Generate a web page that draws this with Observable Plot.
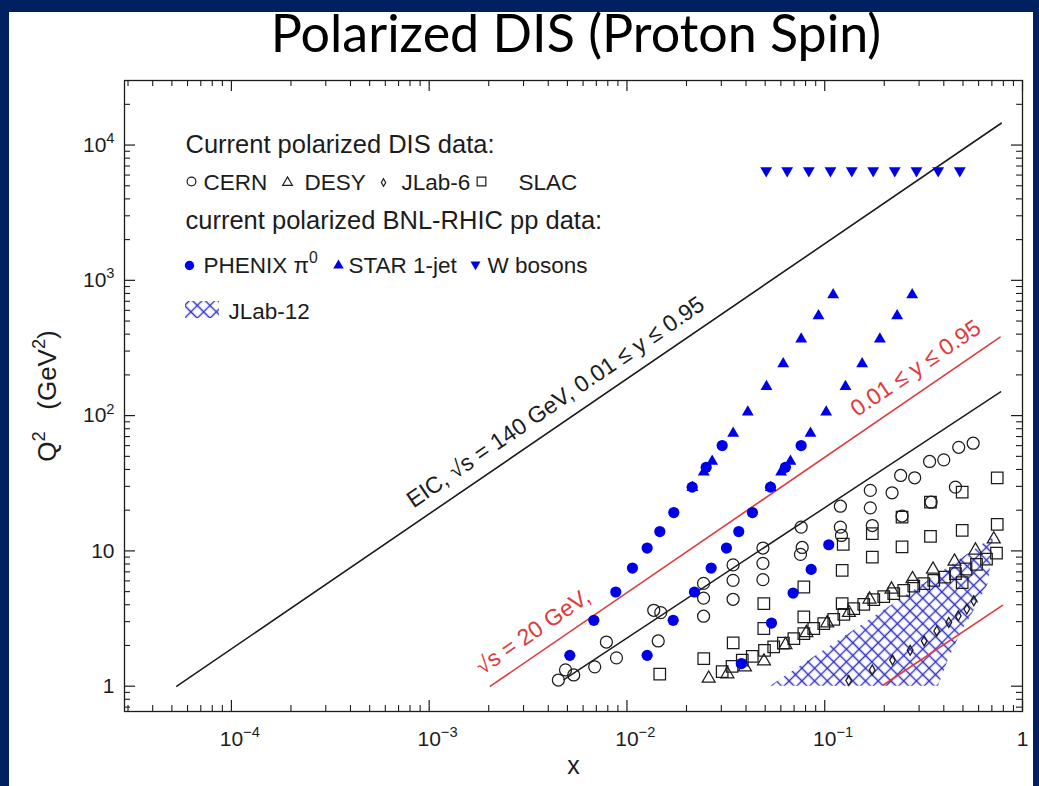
<!DOCTYPE html>
<html>
<head>
<meta charset="utf-8">
<title>Polarized DIS (Proton Spin)</title>
<script src="https://cdn.jsdelivr.net/npm/d3@7"></script>
<script src="https://cdn.jsdelivr.net/npm/@observablehq/plot@0.6"></script>
<style>
  html, body { margin: 0; padding: 0; }
  body { width: 1039px; height: 786px; background: #002060; position: relative; overflow: hidden; }
  #panel { position: absolute; left: 9px; top: 12px; width: 1024px; height: 774px; background: #ffffff; }
  #title { position: absolute; left: 0; top: 6px; width: 1152px; text-align: center;
           font-family: Lato, "Open Sans", sans-serif; font-size: 52px; line-height: 52px; color: #000; }
  #chart { position: absolute; left: 0; top: 0; }
</style>
</head>
<body>
<div id="panel"></div>
<div id="title">Polarized DIS (Proton Spin)</div>
<div id="chart"></div>
<script>
// ---- axis ticks -------------------------------------------------------
const xMajor = [1e-4, 1e-3, 1e-2, 1e-1, 1];
const xTickLabels = ["10^{−4}", "10^{−3}", "10^{−2}", "10^{−1}", "1"];
const yMajor = [1, 10, 100, 1000, 10000];
const yTickLabels = ["1", "10", "10^{2}", "10^{3}", "10^{4}"];

// ---- current polarized DIS data: [x, Q² (GeV²)] ------------------------
const cern = [
  [0.00450, 1.11], [0.00489, 1.32], [0.00538, 1.21], [0.00687, 1.39], [0.00885, 1.62],
  [0.00787, 2.12], [0.01366, 3.64], [0.01482, 3.50], [0.01439, 2.16],
  [0.0244, 5.75], [0.0244, 4.48], [0.0244, 3.29],
  [0.0344, 7.88], [0.0344, 6.06], [0.0344, 4.39],
  [0.0487, 10.5], [0.0487, 8.09], [0.0487, 6.13],
  [0.0760, 15.0], [0.0769, 10.6], [0.0754, 9.42],
  [0.120, 21.4], [0.120, 15.0], [0.1215, 13.0],
  [0.170, 28.0], [0.170, 20.8], [0.174, 15.4],
  [0.219, 26.9], [0.242, 36.1], [0.285, 34.7], [0.246, 18.1],
  [0.339, 45.8], [0.400, 47.1], [0.345, 22.9],
  [0.476, 58.3], [0.563, 62.5], [0.458, 29.6]
];
const desy = [
  [0.0259, 1.14], [0.0322, 1.23], [0.0395, 1.38], [0.0493, 1.53], [0.0633, 2.02],
  [0.0808, 2.48], [0.1029, 2.93], [0.1326, 3.49], [0.1684, 4.39], [0.2176, 5.20],
  [0.2778, 6.21], [0.3527, 7.30], [0.4530, 8.37], [0.5784, 10.1], [0.7159, 12.2]
];
const jlab6 = [
  [0.1323, 1.10], [0.1738, 1.32], [0.2202, 1.56], [0.2704, 1.84], [0.3184, 2.16],
  [0.3686, 2.56], [0.4239, 2.96], [0.4734, 3.31], [0.5228, 3.72], [0.5671, 4.28]
];
const slac = [
  // scattered bins
  [0.01465, 1.23], [0.02445, 1.60], [0.03444, 2.09], [0.0492, 2.67], [0.0492, 4.08],
  [0.0784, 3.25], [0.0784, 5.41], [0.1225, 4.08], [0.1225, 7.18], [0.124, 11.2],
  [0.174, 9.0], [0.174, 13.4], [0.246, 10.7], [0.246, 17.8], [0.3425, 12.8], [0.3425, 22.9],
  [0.4955, 14.2], [0.4955, 27.2], [0.4955, 5.83], [0.745, 34.7], [0.745, 15.7],
  // fixed-angle band
  [0.0303, 1.28], [0.0340, 1.40], [0.0383, 1.56], [0.0430, 1.66], [0.0496, 1.84],
  [0.0552, 1.95], [0.0618, 2.08], [0.0698, 2.25], [0.0784, 2.45], [0.0880, 2.67],
  [0.0989, 2.90], [0.1111, 3.12], [0.1249, 3.40], [0.1402, 3.74], [0.1575, 4.03],
  [0.1770, 4.36], [0.1988, 4.60], [0.2234, 4.83], [0.2510, 5.11], [0.2820, 5.50],
  [0.3168, 5.73], [0.3559, 6.06], [0.4033, 6.40], [0.4584, 6.79], [0.5180, 7.35],
  [0.5853, 7.95], [0.6577, 8.70], [0.7387, 9.63]
];

// ---- current polarized BNL-RHIC pp data -------------------------------
const phenix = [
  [0.00514, 1.69], [0.00680, 3.07], [0.00878, 4.97], [0.01066, 7.47], [0.01265, 10.5],
  [0.01466, 13.9], [0.01725, 19.2], [0.02137, 29.6], [0.02515, 41.5], [0.0303, 60.1],
  [0.01265, 1.69], [0.01713, 3.07], [0.02195, 4.97], [0.02666, 7.47], [0.03185, 10.5],
  [0.03675, 13.9], [0.0431, 19.2], [0.0532, 29.6], [0.0633, 41.5], [0.0760, 60.1],
  [0.0379, 1.47], [0.0538, 2.93], [0.0692, 4.88], [0.0854, 7.3], [0.1048, 11.1]
];
const star = [
  [0.02144, 29.4], [0.02445, 38.2], [0.02697, 46.0], [0.03444, 74.0], [0.04083, 106],
  [0.05075, 164], [0.06166, 241], [0.07603, 368], [0.0930, 547], [0.1103, 782],
  [0.0533, 29.4], [0.0602, 38.2], [0.0671, 46.0], [0.0847, 74.0], [0.1017, 106],
  [0.1273, 164], [0.1546, 241], [0.190, 368], [0.2324, 547], [0.2768, 782]
];
const wBosons = [
  [0.0506, 6464], [0.0646, 6464], [0.0831, 6464], [0.1069, 6464], [0.1370, 6464],
  [0.1758, 6464], [0.2260, 6464], [0.2911, 6464], [0.3747, 6464], [0.4819, 6464]
];

// ---- kinematic reach ---------------------------------------------------
const eicLimit = [[5.3e-5, 1], [0.78, 14500]];
const fixedTarget20Limit = [[2.04e-3, 1], [0.77, 380]];
const fixedTarget20Lower = [[4.8e-3, 1.12], [0.775, 150]];
const jlab12Lower = [[0.198, 1.02], [0.792, 3.96]];
const jlab12Region = [
  [0.0532, 1], [0.713, 12.6], [0.697, 8.51], [0.673, 5.75],
  [0.578, 3.76], [0.491, 2.50], [0.422, 1.56], [0.376, 1]
];
const lineLabels = [
  {text: "EIC, √s = 140 GeV, 0.01 ≤ y ≤ 0.95", x: 8.32e-4, q2: 20.6, kind: "eic"},
  {text: "√s = 20 GeV,", x: 1.86e-3, q2: 1.205, kind: "fixed"},
  {text: "0.01 ≤ y ≤ 0.95", x: 0.146, q2: 97.2, kind: "fixed"}
];

// ---- layout & style ----------------------------------------------------
const width = 1039, height = 786;
const margin = {top: 80, right: 17, bottom: 75, left: 124};
const innerW = width - margin.left - margin.right;
const innerH = height - margin.top - margin.bottom;
const BLUE = "#0000e8", RED = "#e03a3c", INK = "#1c1c1c", MESH = "#3232c8";
const FONT = "'Liberation Sans', Arial, Helvetica, sans-serif";
const xDomain = [2.88e-5, 1], yDomain = [0.65, 3e4];

const minorTicks = ([lo, hi]) =>
  d3.range(Math.floor(Math.log10(lo)), Math.ceil(Math.log10(hi)))
    .flatMap(e => d3.range(2, 10).map(m => m * 10 ** e))
    .filter(v => v > lo && v < hi);
const xMinor = minorTicks(xDomain), yMinor = minorTicks(yDomain);

const triangleDown = {
  draw(context, size) {
    const y = -Math.sqrt(size / (Math.sqrt(3) * 3));
    context.moveTo(0, -y * 2);
    context.lineTo(-Math.sqrt(3) * y, y);
    context.lineTo(Math.sqrt(3) * y, y);
    context.closePath();
  }
};

const px = d => d[0], py = d => d[1];
const xLabel = d => xTickLabels[xMajor.indexOf(d)];
const yLabel = d => yTickLabels[yMajor.indexOf(d)];

// JLab-12 coverage as a cross-hatched polygon, plus the mesh pattern itself
function jlab12Area(index, {x, y}) {
  const g = d3.create("svg:g");
  const pat = g.append("defs").append("pattern")
    .attr("id", "jlab12-mesh").attr("patternUnits", "userSpaceOnUse")
    .attr("width", 9).attr("height", 9).attr("patternTransform", "rotate(45)");
  pat.append("path").attr("d", "M0,4.5H9M4.5,0V9")
    .attr("stroke", MESH).attr("stroke-width", 1.4).attr("fill", "none");
  g.append("path")
    .attr("d", d3.line()(jlab12Region.map(([a, b]) => [x(a), y(b)])) + "Z")
    .attr("fill", "url(#jlab12-mesh)");
  return g.node();
}
function jlab12Swatch(index, scales, values, {marginLeft, marginTop}) {
  return d3.create("svg:rect")
    .attr("x", marginLeft + 61).attr("y", marginTop + 221)
    .attr("width", 34).attr("height", 17)
    .attr("fill", "url(#jlab12-mesh)").node();
}

const legendText = (label, dx, dy, fontSize = 22.5) => Plot.text([label], {
  frameAnchor: "top-left", dx, dy, textAnchor: "start", lineAnchor: "bottom",
  fontSize, fill: INK
});
const legendDot = (symbol, dx, dy, r, filled, color) => Plot.dot([0], {
  frameAnchor: "top-left", dx, dy, symbol, r,
  fill: filled ? color : "none", stroke: color, strokeWidth: filled ? 0 : 1.2
});

const chart = Plot.plot({
  width, height,
  marginTop: margin.top, marginRight: margin.right,
  marginBottom: margin.bottom, marginLeft: margin.left,
  style: {fontFamily: FONT, fontSize: "20px", background: "transparent", color: INK},
  x: {type: "log", domain: xDomain, axis: null},
  y: {type: "log", domain: yDomain, axis: null},
  marks: [
    jlab12Area,

    Plot.line(eicLimit, {x: px, y: py, stroke: INK, strokeWidth: 1.6}),
    Plot.line(fixedTarget20Limit, {x: px, y: py, stroke: RED, strokeWidth: 1.6}),
    Plot.line(fixedTarget20Lower, {x: px, y: py, stroke: INK, strokeWidth: 1.5}),
    Plot.line(jlab12Lower, {x: px, y: py, stroke: RED, strokeWidth: 1.6}),

    Plot.dot(slac, {x: px, y: py, symbol: "square", r: 6.5, fill: "none", stroke: INK, strokeWidth: 1.25}),
    Plot.dot(desy, {x: px, y: py, symbol: "triangle", r: 4.8, fill: "none", stroke: INK, strokeWidth: 1.25}),
    Plot.dot(cern, {x: px, y: py, symbol: "circle", r: 6, fill: "none", stroke: INK, strokeWidth: 1.25}),
    Plot.dot(jlab6, {x: px, y: py, symbol: "diamond", r: 3, fill: "none", stroke: INK, strokeWidth: 1.3}),
    Plot.dot(phenix, {x: px, y: py, symbol: "circle", r: 5.6, fill: BLUE}),
    Plot.dot(star, {x: px, y: py, symbol: "triangle", r: 4.4, fill: BLUE}),
    Plot.dot(wBosons, {x: px, y: py, symbol: triangleDown, r: 4.4, fill: BLUE}),

    Plot.text(lineLabels, {
      x: "x", y: "q2", text: "text", rotate: -34.4, textAnchor: "start", lineAnchor: "bottom",
      fontSize: 23, fill: d => d.kind === "eic" ? INK : RED
    }),

    // legend
    legendText("Current polarized DIS data:", 61, 72, 25.5),
    legendDot("circle", 67, 101, 4.4, false, INK),
    legendText("CERN", 79, 109),
    legendDot("triangle", 163, 102, 3.6, false, INK),
    legendText("DESY", 180, 109),
    legendDot("diamond", 259, 102, 2.3, false, INK),
    legendText("JLab-6", 277, 109),
    legendDot("square", 357, 101, 4.9, false, INK),
    legendText("SLAC", 394, 109),
    legendText("current polarized BNL-RHIC pp data:", 61, 148, 25.5),
    legendDot("circle", 65, 185, 4.7, true, BLUE),
    legendText("PHENIX π^{0}", 79, 192),
    legendDot("triangle", 214, 185, 3.9, true, BLUE),
    legendText("STAR 1-jet", 224, 192),
    legendDot(triangleDown, 351, 184, 3.7, true, BLUE),
    legendText("W bosons", 363, 192),
    jlab12Swatch,
    legendText("JLab-12", 104, 238),

    // frame with inward ticks on all four sides
    Plot.frame({stroke: INK, strokeWidth: 1.3}),
    Plot.tickX(xMajor, {x: d => d, insetTop: innerH - 11, stroke: INK, strokeWidth: 1.2}),
    Plot.tickX(xMajor, {x: d => d, insetBottom: innerH - 11, stroke: INK, strokeWidth: 1.2}),
    Plot.tickX(xMinor, {x: d => d, insetTop: innerH - 6, stroke: INK, strokeWidth: 1.1}),
    Plot.tickX(xMinor, {x: d => d, insetBottom: innerH - 6, stroke: INK, strokeWidth: 1.1}),
    Plot.tickY(yMajor, {y: d => d, insetRight: innerW - 11, stroke: INK, strokeWidth: 1.2}),
    Plot.tickY(yMajor, {y: d => d, insetLeft: innerW - 11, stroke: INK, strokeWidth: 1.2}),
    Plot.tickY(yMinor, {y: d => d, insetRight: innerW - 6, stroke: INK, strokeWidth: 1.1}),
    Plot.tickY(yMinor, {y: d => d, insetLeft: innerW - 6, stroke: INK, strokeWidth: 1.1}),

    // tick labels: powers of ten centred on the mantissa "10"
    Plot.text(xMajor.filter(d => d < 1), {x: d => d, text: xLabel, frameAnchor: "bottom",
      textAnchor: "start", lineAnchor: "bottom", dx: -11.7, dy: 34, fontSize: 21, fill: INK}),
    Plot.text(xMajor.filter(d => d === 1), {x: d => d, text: xLabel, frameAnchor: "bottom",
      textAnchor: "middle", lineAnchor: "bottom", dy: 34, fontSize: 21, fill: INK}),
    Plot.text(yMajor, {y: d => d, text: yLabel, frameAnchor: "left",
      textAnchor: "end", dx: -10, fontSize: 21, fill: INK}),

    // axis titles
    Plot.text(["x"], {frameAnchor: "bottom", dy: 62, fontSize: 25, fill: INK}),
    Plot.text(["Q^{2}   (GeV^{2})"], {frameAnchor: "left", textAnchor: "middle",
      dx: -77, rotate: -90, fontSize: 26, fill: INK})
  ]
});

// turn "^{...}" markers into raised tspans
d3.select(chart).selectAll("text").each(function () {
  const s = this.textContent;
  if (!s.includes("^{")) return;
  const parts = s.split(/\^\{([^}]*)\}/);
  this.textContent = "";
  let raised = false;
  parts.forEach((p, i) => {
    if (p === "") return;
    const t = d3.select(this).append("tspan").text(p);
    if (i % 2 === 1) { t.attr("font-size", "70%").attr("dy", "-0.6em"); raised = true; }
    else if (raised) { t.attr("dy", "0.42em"); raised = false; }
  });
});

document.getElementById("chart").append(chart);
</script>
</body>
</html>
